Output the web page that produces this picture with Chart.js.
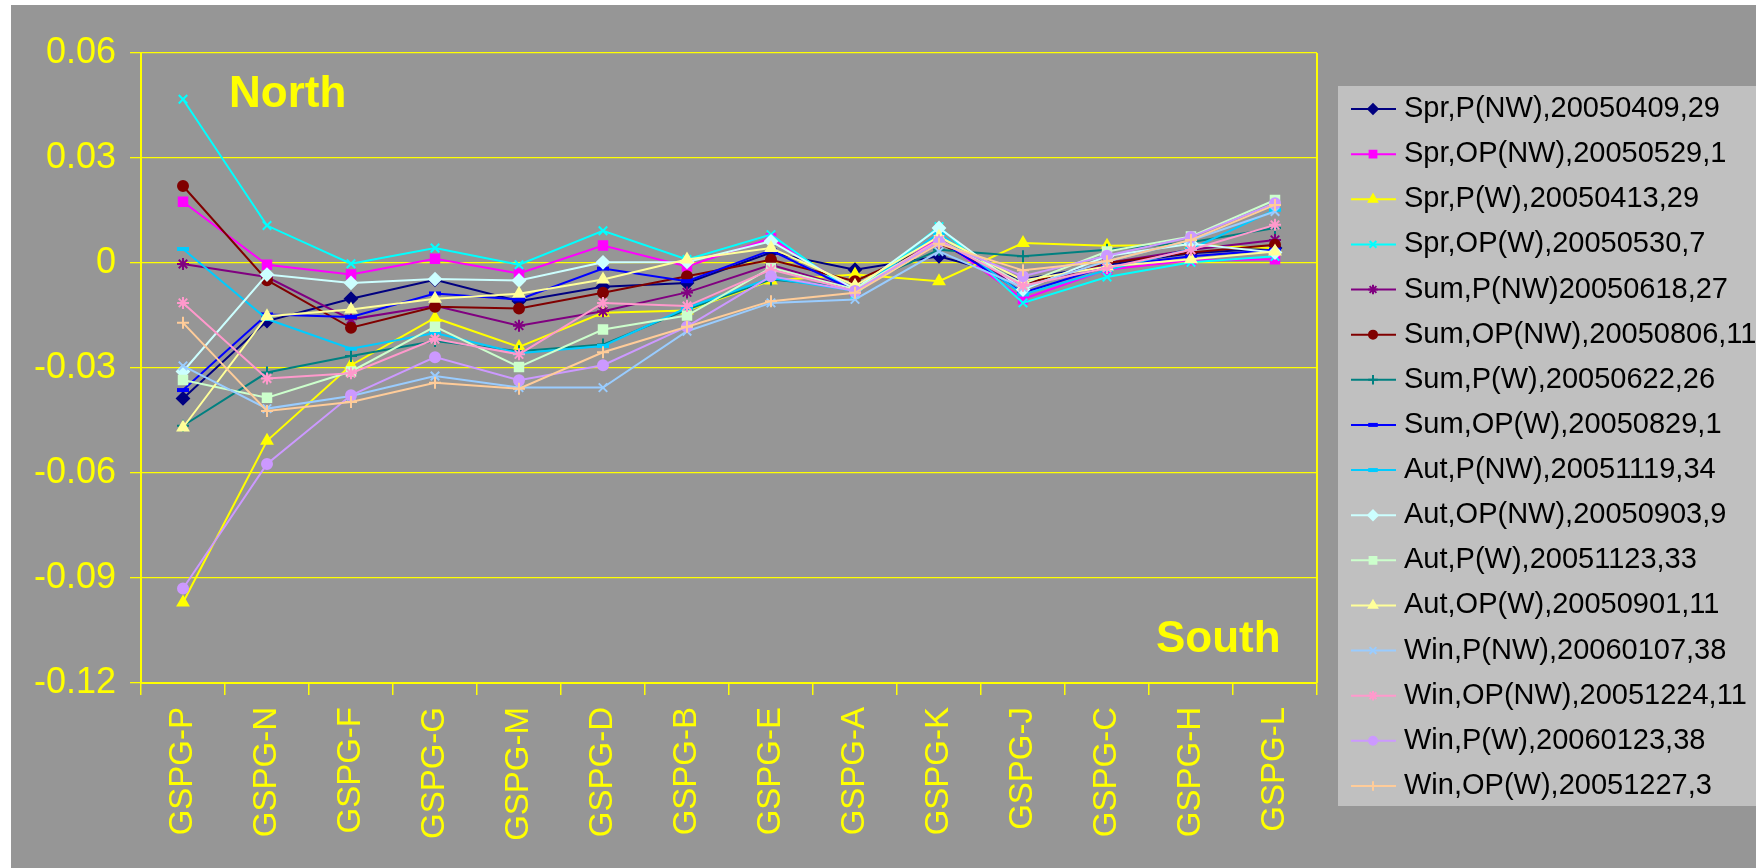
<!DOCTYPE html>
<html>
<head>
<meta charset="utf-8">
<script src="https://cdn.jsdelivr.net/npm/chart.js@4.4.1/dist/chart.umd.min.js"></script>
<style>
html, body { margin: 0; padding: 0; background: #fff; width: 1756px; height: 868px; overflow: hidden; }
#wrap { position: absolute; left: 11px; top: 5px; width: 1745px; height: 863px; background: #969696; }
</style>
</head>
<body>
<div id="wrap"><canvas id="chartId" width="1745" height="863"></canvas></div>
<script>
const stations = ['GSPG-P', 'GSPG-N', 'GSPG-F', 'GSPG-G', 'GSPG-M', 'GSPG-D', 'GSPG-B', 'GSPG-E', 'GSPG-A', 'GSPG-K', 'GSPG-J', 'GSPG-C', 'GSPG-H', 'GSPG-L']
const yTicks = [0.06, 0.03, 0, -0.03, -0.06, -0.09, -0.12]

const seriesNames = [
    'Spr,P(NW),20050409,29', 'Spr,OP(NW),20050529,1', 'Spr,P(W),20050413,29', 'Spr,OP(W),20050530,7',
    'Sum,P(NW)20050618,27', 'Sum,OP(NW),20050806,11', 'Sum,P(W),20050622,26', 'Sum,OP(W),20050829,1',
    'Aut,P(NW),20051119,34', 'Aut,OP(NW),20050903,9', 'Aut,P(W),20051123,33', 'Aut,OP(W),20050901,11',
    'Win,P(NW),20060107,38', 'Win,OP(NW),20051224,11', 'Win,P(W),20060123,38', 'Win,OP(W),20051227,3'
]

const sprPNW = [-0.0387, -0.0166, -0.0102, -0.0048, -0.0109, -0.0068, -0.0057, 0.0030, -0.0019, 0.0019, -0.0047, -0.0005, 0.0028, 0.0043]
const sprOPNW = [0.0175, -0.0005, -0.0033, 0.0012, -0.0030, 0.0050, -0.0010, 0.0071, -0.0080, 0.0070, -0.0103, -0.0019, 0.0008, 0.0011]
const sprPW = [-0.0970, -0.0508, -0.0292, -0.0157, -0.0240, -0.0142, -0.0136, -0.0050, -0.0033, -0.0052, 0.0057, 0.0049, 0.0052, 0.0042]
const sprOPW = [0.0468, 0.0107, -0.0002, 0.0043, -0.0005, 0.0092, 0.0010, 0.0081, -0.0090, 0.0104, -0.0114, -0.0040, 0.0002, 0.0019]
const sumPNW = [-0.0003, -0.0040, -0.0161, -0.0122, -0.0179, -0.0138, -0.0084, -0.0005, -0.0075, 0.0060, -0.0070, 0.0000, 0.0038, 0.0066]
const sumOPNW = [0.0220, -0.0049, -0.0185, -0.0125, -0.0130, -0.0085, -0.0038, 0.0009, -0.0052, 0.0057, -0.0060, 0.0000, 0.0030, 0.0052]
const sumPW = [-0.0465, -0.0313, -0.0266, -0.0223, -0.0252, -0.0233, -0.0133, -0.0047, -0.0070, 0.0038, 0.0019, 0.0038, 0.0059, 0.0100]
const sumOPW = [-0.0363, -0.0147, -0.0154, -0.0087, -0.0104, -0.0016, -0.0052, 0.0036, -0.0080, 0.0065, -0.0085, -0.0010, 0.0019, 0.0038]
const autPNW = [0.0040, -0.0160, -0.0245, -0.0200, -0.0258, -0.0237, -0.0128, -0.0043, -0.0080, 0.0085, -0.0090, -0.0020, 0.0040, 0.0152]
const autOPNW = [-0.0310, -0.0033, -0.0057, -0.0046, -0.0050, 0.0002, 0.0003, 0.0062, -0.0075, 0.0100, -0.0076, 0.0020, 0.0055, 0.0030]
const autPW = [-0.0334, -0.0385, -0.0310, -0.0182, -0.0297, -0.0190, -0.0150, -0.0014, -0.0075, 0.0065, -0.0060, 0.0033, 0.0076, 0.0180]
const autOPW = [-0.0470, -0.0152, -0.0133, -0.0102, -0.0088, -0.0047, 0.0010, 0.0043, -0.0065, 0.0075, -0.0050, -0.0010, 0.0011, 0.0033]
const winPNW = [-0.0294, -0.0416, -0.0380, -0.0323, -0.0356, -0.0356, -0.0195, -0.0114, -0.0104, 0.0033, -0.0070, 0.0005, 0.0065, 0.0147]
const winOPNW = [-0.0114, -0.0330, -0.0315, -0.0217, -0.0261, -0.0114, -0.0123, -0.0019, -0.0080, 0.0065, -0.0065, -0.0014, 0.0038, 0.0109]
const winPW = [-0.0930, -0.0574, -0.0378, -0.0269, -0.0335, -0.0292, -0.0182, -0.0038, -0.0080, 0.0060, -0.0038, 0.0021, 0.0074, 0.0171]
const winOPW = [-0.0171, -0.0423, -0.0397, -0.0342, -0.0359, -0.0255, -0.0182, -0.0109, -0.0085, 0.0055, -0.0021, 0.0005, 0.0066, 0.0166]

const seriesValues = [sprPNW, sprOPNW, sprPW, sprOPW, sumPNW, sumOPNW, sumPW, sumOPW, autPNW, autOPNW, autPW, autOPW, winPNW, winOPNW, winPW, winOPW]

// excel style colours and markers, one per series
const colors = ['#000080', '#ff00ff', '#ffff00', '#00ffff', '#800080', '#800000', '#008080', '#0000ff',
    '#00ccff', '#ccffff', '#ccffcc', '#ffff99', '#99ccff', '#ff99cc', '#cc99ff', '#ffcc99']
const markers = ['rectRot', 'rect', 'triangle', 'crossRot', 'star', 'circle', 'cross', 'line',
    'line', 'rectRot', 'rect', 'triangle', 'crossRot', 'star', 'circle', 'cross']

const font = '"Liberation Sans", Arial, sans-serif'
const yellow = '#ffff00'

const datasets = seriesValues.map((vals, i) => ({
    label: seriesNames[i],
    data: vals,
    borderColor: colors[i],
    backgroundColor: colors[i],
    pointBackgroundColor: colors[i],
    pointBorderColor: colors[i],
    pointStyle: markers[i],
    pointRadius: markers[i] == 'circle' ? 5 : 6,
    pointBorderWidth: markers[i] == 'line' ? 4 : 2,
    borderWidth: 2,
    tension: 0,
    order: seriesValues.length - i
}))

const extras = {
    id: 'extras',
    afterDraw(chart) {
        const ctx = chart.ctx
        const a = chart.chartArea
        ctx.save()
        // right border of the plot area
        ctx.strokeStyle = yellow
        ctx.lineWidth = 2
        ctx.beginPath()
        ctx.moveTo(a.right, a.top)
        ctx.lineTo(a.right, a.bottom)
        ctx.stroke()

        ctx.fillStyle = yellow
        ctx.font = 'bold 44px ' + font
        ctx.textBaseline = 'alphabetic'
        ctx.fillText('North', 218, 102)
        ctx.fillText('South', 1145, 647)

        // legend
        ctx.fillStyle = '#c0c0c0'
        ctx.fillRect(1327, 81, 430, 720)
        chart.data.datasets.forEach((ds, i) => {
            const y = 104 + i * 45.13
            ctx.strokeStyle = ds.borderColor
            ctx.fillStyle = ds.borderColor
            ctx.lineWidth = 2
            ctx.beginPath()
            ctx.moveTo(1340, y)
            ctx.lineTo(1385, y)
            ctx.stroke()
            ctx.lineWidth = ds.pointBorderWidth
            Chart.helpers.drawPoint(ctx, { pointStyle: ds.pointStyle, radius: ds.pointRadius * 0.8, borderWidth: ds.pointBorderWidth, rotation: 0 }, 1362, y)
            ctx.fillStyle = '#000'
            ctx.font = '29px ' + font
            ctx.textBaseline = 'middle'
            ctx.fillText(ds.label, 1393, y)
        })
        ctx.restore()
    }
}

new Chart(document.getElementById('chartId'), {
    type: 'line',
    data: { labels: stations, datasets: datasets },
    options: {
        responsive: false,
        animation: false,
        layout: { padding: { left: 0, top: 48, right: 439, bottom: 0 } },
        plugins: { legend: { display: false }, tooltip: { enabled: false } },
        scales: {
            x: {
                offset: true,
                grid: { offset: true, drawOnChartArea: false, color: yellow, tickLength: 12, lineWidth: 1.5 },
                border: { color: yellow, width: 2 },
                ticks: { color: yellow, font: { family: font, size: 33 }, minRotation: 90, maxRotation: 90, padding: 12 },
                afterFit: (s) => { s.height = 185 }
            },
            y: {
                min: -0.12,
                max: 0.06,
                afterBuildTicks: (s) => { s.ticks = yTicks.map(v => ({ value: v })) },
                grid: { color: yellow, tickLength: 11, lineWidth: 1.3 },
                border: { color: yellow, width: 2 },
                ticks: {
                    color: yellow, font: { family: font, size: 36 }, padding: 14,
                    callback: (v) => parseFloat(v.toFixed(2)).toString()
                },
                afterFit: (s) => { s.width = 130 }
            }
        }
    },
    plugins: [extras]
});
</script>
</body>
</html>
